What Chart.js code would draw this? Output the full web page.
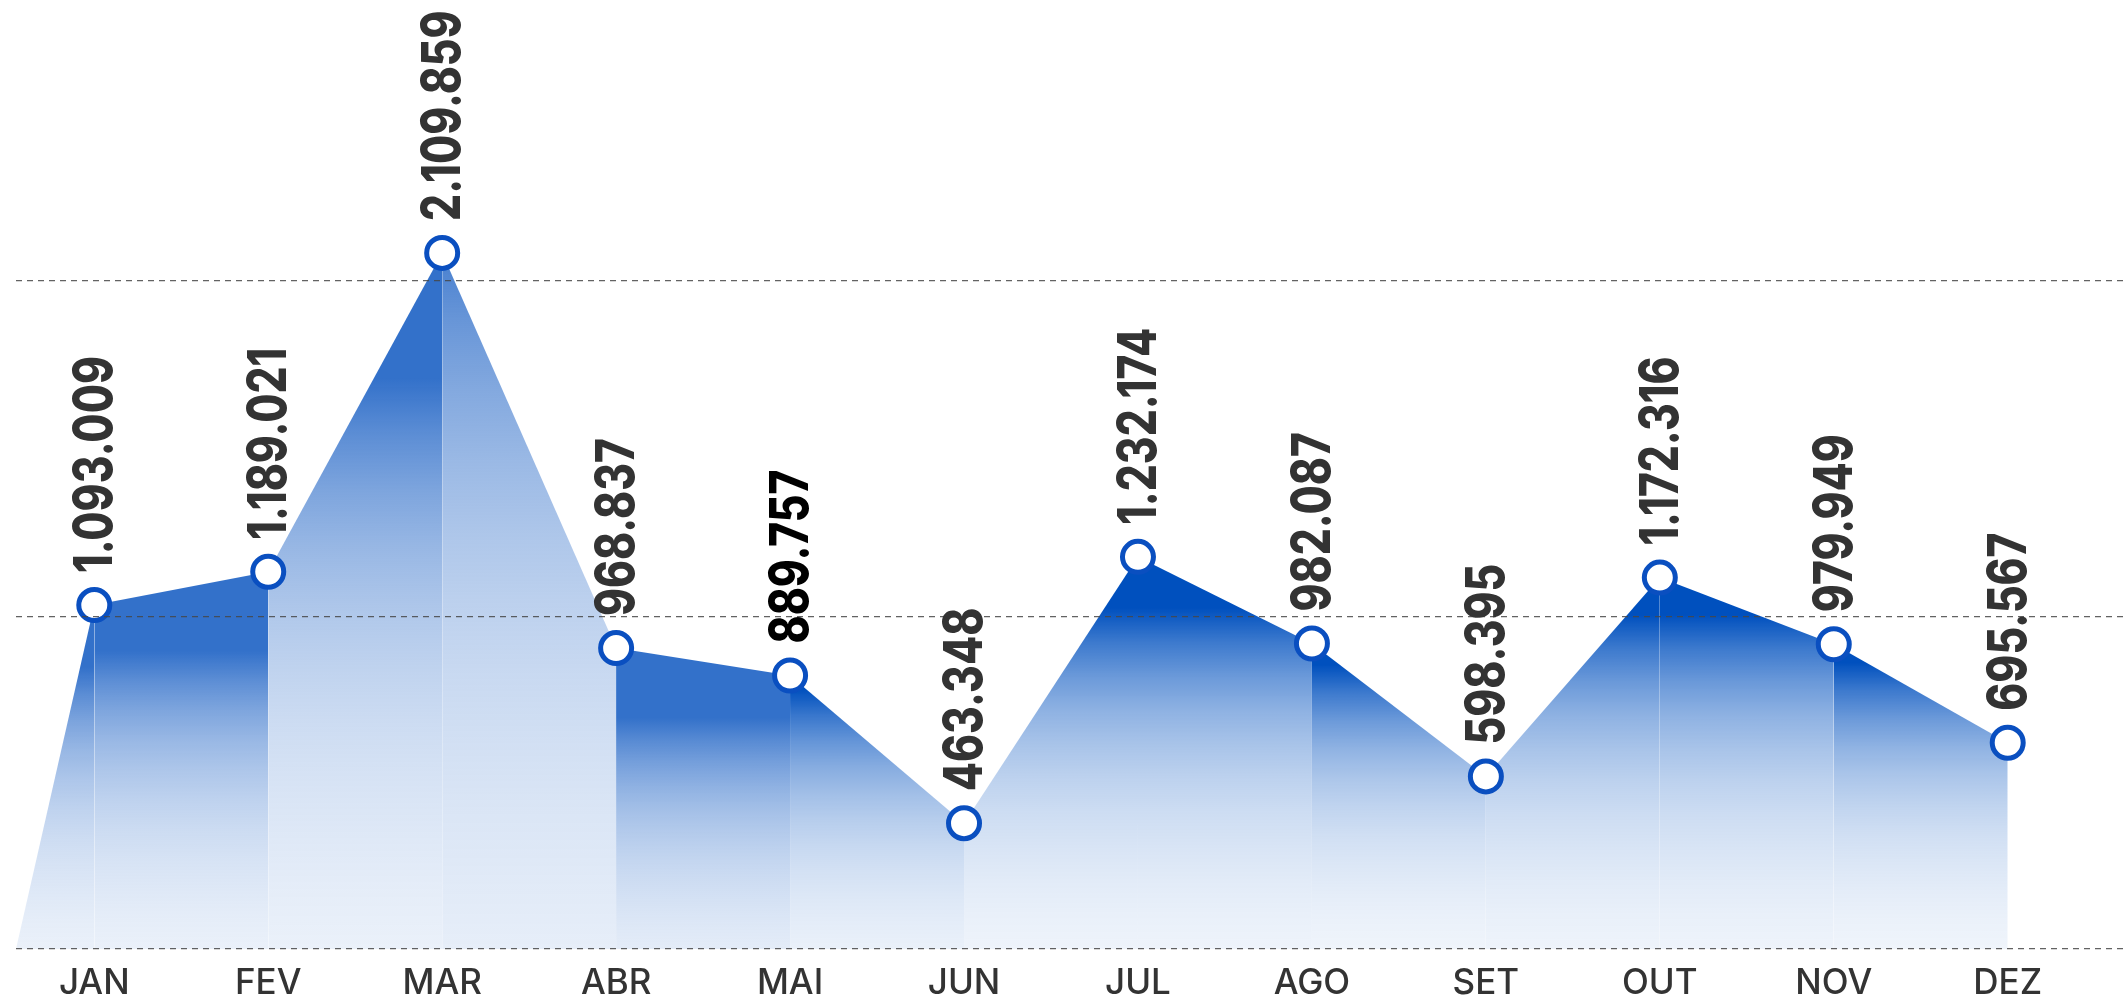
<!DOCTYPE html>
<html lang="pt-BR">
<head>
<meta charset="utf-8">
<title>Valores mensais</title>
<script src="https://cdn.jsdelivr.net/npm/chart.js@4.4.1/dist/chart.umd.min.js"></script>
<style>
  html, body { margin: 0; padding: 0; background: #fff; overflow: hidden; }
  #wrap { width: 2126px; height: 999px; position: relative; }
</style>
</head>
<body>
<div id="wrap"><canvas id="chart"></canvas></div>
<script>
// Dados do gráfico
const months = ['JAN', 'FEV', 'MAR', 'ABR', 'MAI', 'JUN', 'JUL', 'AGO', 'SET', 'OUT', 'NOV', 'DEZ'];
const values = [1093009, 1189021, 2109859, 968837, 889757, 463348, 1232174, 982087, 598395, 1172316, 979949, 695567];
const gridValues = [100000, 1060000, 2030000];

// Faixas dos eixos
const yMin = 100000;
const yMax = 2840000;
const xStart = -0.45; // onde a rampa inicial encosta na base
const xEnd = 11.68;

const highlightIndex = 4; // 889.757 aparece em preto

// Degradê de cada trecho: cor, parte sólida e queda
const BLUE_A = [51, 113, 202];
const BLUE_B = [0, 80, 190];
const segmentStyles = [
  { color: BLUE_A, alpha: 1, solid: 0.18, decay: 2.3 },  // rampa -> JAN
  { color: BLUE_A, alpha: 1, solid: 0.21, decay: 2.3 },  // JAN -> FEV
  { color: BLUE_A, alpha: 1, solid: 0.18, decay: 2.3 },  // FEV -> MAR
  { color: BLUE_A, alpha: 0.9, solid: 0, decay: 2.0 },   // MAR -> ABR
  { color: BLUE_A, alpha: 1, solid: 0.23, decay: 2.0 },  // ABR -> MAI
  { color: BLUE_B, alpha: 1, solid: 0.05, decay: 2.5 },  // MAI -> JUN
  { color: BLUE_B, alpha: 1, solid: 0.13, decay: 2.7 },  // JUN -> JUL
  { color: BLUE_B, alpha: 1, solid: 0.13, decay: 2.7 },  // JUL -> AGO
  { color: BLUE_B, alpha: 1, solid: 0.07, decay: 2.8 },  // AGO -> SET
  { color: BLUE_B, alpha: 1, solid: 0.10, decay: 2.7 },  // SET -> OUT
  { color: BLUE_B, alpha: 1, solid: 0.10, decay: 2.7 },  // OUT -> NOV
  { color: BLUE_B, alpha: 1, solid: 0.06, decay: 2.8 }   // NOV -> DEZ
];

function formatBR(v) {
  return String(v).replace(/\B(?=(\d{3})+(?!\d))/g, '.');
}

function rgba(c, a) {
  return `rgba(${c[0]}, ${c[1]}, ${c[2]}, ${a.toFixed(3)})`;
}

// Cria o degradê vertical de um trecho, do ponto mais alto até a base
function segmentFill(ctx) {
  const chart = ctx.chart;
  const area = chart.chartArea;
  if (!area) return 'transparent';
  const st = segmentStyles[ctx.p0DataIndex] || segmentStyles[0];
  const top = Math.min(ctx.p0.y, ctx.p1.y);
  const g = chart.ctx.createLinearGradient(0, top, 0, area.bottom);
  g.addColorStop(0, rgba(st.color, st.alpha));
  g.addColorStop(st.solid, rgba(st.color, st.alpha));
  for (let k = 1; k <= 10; k++) {
    const t = k / 10;
    g.addColorStop(st.solid + (1 - st.solid) * t, rgba(st.color, st.alpha * Math.exp(-st.decay * t)));
  }
  return g;
}

// Rótulos verticais acima de cada ponto (fonte um pouco condensada)
const valueLabels = {
  id: 'valueLabels',
  afterDraw(chart) {
    const { ctx } = chart;
    const meta = chart.getDatasetMeta(0);
    ctx.save();
    ctx.font = '800 53px Inter';
    ctx.textAlign = 'left';
    ctx.textBaseline = 'middle';
    meta.data.forEach((pt, i) => {
      if (i === 0) return;
      const idx = i - 1;
      ctx.save();
      ctx.translate(pt.x, pt.y - 32);
      ctx.rotate(-Math.PI / 2);
      ctx.scale(0.8, 1);
      ctx.fillStyle = idx === highlightIndex ? '#000' : '#333';
      ctx.fillText(formatBR(values[idx]), 0, 2);
      ctx.restore();
    });
    ctx.restore();
  }
};

const points = [{ x: xStart, y: yMin }].concat(values.map((v, i) => ({ x: i, y: v })));

new Chart(document.getElementById('chart'), {
  type: 'line',
  data: {
    datasets: [{
      data: points,
      fill: 'start',
      borderWidth: 0,
      borderColor: 'rgba(0,0,0,0)',
      backgroundColor: rgba(BLUE_A, 1),
      tension: 0,
      clip: false,
      segment: { backgroundColor: segmentFill },
      pointRadius: ctx => (ctx.dataIndex === 0 ? 0 : 15.5),
      pointBorderWidth: 5,
      pointBackgroundColor: '#fff',
      pointBorderColor: '#0a4fc0',
      pointHoverRadius: 15.5
    }]
  },
  options: {
    responsive: true,
    maintainAspectRatio: false,
    animation: false,
    layout: { autoPadding: false, padding: { left: 16, right: 0, top: 0, bottom: -10 } },
    plugins: {
      legend: { display: false },
      tooltip: { enabled: false }
    },
    scales: {
      x: {
        type: 'linear',
        min: xStart,
        max: xEnd,
        afterBuildTicks: axis => { axis.ticks = months.map((m, i) => ({ value: i })); },
        ticks: {
          autoSkip: false,
          maxRotation: 0,
          padding: 5,
          color: '#333',
          font: { family: 'Inter', size: 35, weight: '500' },
          callback: v => months[v]
        },
        grid: { display: false },
        border: { display: false }
      },
      y: {
        min: yMin,
        max: yMax,
        afterBuildTicks: axis => { axis.ticks = gridValues.map(v => ({ value: v })); },
        ticks: { display: false },
        grid: {
          z: 1,
          drawTicks: false,
          color: 'rgba(70, 70, 70, 0.85)',
          lineWidth: 1.3
        },
        border: { display: false, dash: [6, 5] }
      }
    }
  },
  plugins: [valueLabels]
});
</script>
</body>
</html>
